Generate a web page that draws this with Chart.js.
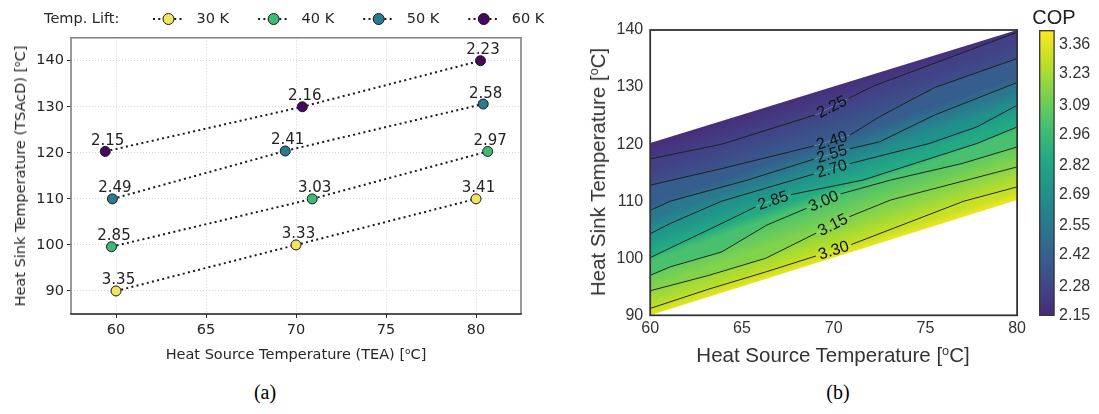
<!DOCTYPE html>
<html>
<head>
<meta charset="utf-8">
<script src="https://cdn.jsdelivr.net/npm/chart.js@4/dist/chart.umd.min.js"></script>
<style>
  body { margin: 0; background: #fff; }
  #fig { position: relative; width: 1099px; height: 414px; overflow: hidden; background: #fff; }
  canvas { position: absolute; top: 0; }
  .lbl { position: absolute; white-space: nowrap; transform: translate(-50%, -50%); line-height: 1; }
  .rot { transform: translate(-50%, -50%) rotate(-90deg); }
  sup { font-size: 0.62em; vertical-align: 0.55em; line-height: 0; }
</style>
</head>
<body>
<div id="fig">
  <canvas id="chartA" width="545" height="380" style="left:0;width:545px;height:380px"></canvas>
  <canvas id="chartB" width="470" height="380" style="left:560px;width:470px;height:380px"></canvas>
  <canvas id="chartCb" width="74" height="380" style="left:1025px;width:74px;height:380px"></canvas>

  <div class="lbl" style="left:296px;top:354px;font:14.5px 'DejaVu Sans';color:#262626">Heat Source Temperature (TEA) [<sup>o</sup>C]</div>
  <div class="lbl rot" style="left:20px;top:176px;font:14.5px 'DejaVu Sans';color:#262626">Heat Sink Temperature (TSAcD) [<sup>o</sup>C]</div>

  <div class="lbl" style="left:833px;top:355px;font:20.5px 'Liberation Sans';color:#333">Heat Source Temperature [<sup>o</sup>C]</div>
  <div class="lbl rot" style="left:598px;top:172px;font:20.5px 'Liberation Sans';color:#333">Heat Sink Temperature [<sup>o</sup>C]</div>
  <div class="lbl" style="left:1054px;top:17px;font:20px 'Liberation Sans';color:#222">COP</div>

  <div class="lbl" style="left:265px;top:392px;font:20px 'Liberation Serif';color:#000">(a)</div>
  <div class="lbl" style="left:838px;top:392px;font:20px 'Liberation Serif';color:#000">(b)</div>
</div>
<script>
// ---------- Painel (a): pontos medidos por elevação de temperatura
const liftLabels = ["30 K", "40 K", "50 K", "60 K"];
const lift30Src = [60.0, 70.0, 80.0];
const lift30Sink = [90.0, 100.0, 110.0];
const lift30Cop = [3.35, 3.33, 3.41];
const lift40Src = [59.75, 70.9, 80.65];
const lift40Sink = [99.6, 110.0, 120.3];
const lift40Cop = [2.85, 3.03, 2.97];
const lift50Src = [59.8, 69.4, 80.4];
const lift50Sink = [110.0, 120.4, 130.6];
const lift50Cop = [2.49, 2.41, 2.58];
const lift60Src = [59.4, 70.35, 80.25];
const lift60Sink = [120.3, 130.0, 140.0];
const lift60Cop = [2.15, 2.16, 2.23];
const aTicksX = [60, 65, 70, 75, 80];
const aTicksY = [90, 100, 110, 120, 130, 140];

// ---------- Painel (b): linhas de contorno do COP
const contourLevels = [3.30, 3.15, 3.00, 2.85, 2.70, 2.55, 2.40, 2.25];
const c330x = [60, 63.2, 66.3, 70.8, 77.1, 80];
const c330y = [91.2, 94.6, 97.6, 102.2, 110.0, 112.5];
const c315x = [60, 63.2, 66.3, 70.8, 73.1, 80];
const c315y = [94.3, 97.0, 100.0, 107.2, 110.2, 116.0];
const c300x = [60, 61.1, 63.9, 66.35, 70.4, 73.1, 77, 80];
const c300y = [97.0, 98.5, 101.1, 105.8, 111.3, 113.7, 116.6, 119.5];
const c285x = [60, 61.1, 63.9, 66.0, 67.6, 71.6, 77.8, 80];
const c285y = [100.1, 101.8, 106.1, 109.4, 111.1, 113.7, 120.1, 123.0];
const c270x = [60, 61.1, 63.9, 69.07, 70.9, 75.2, 77.8, 80];
const c270y = [104.3, 106.1, 110.0, 114.9, 116.6, 120.1, 123.0, 126.8];
const c255x = [60, 61.1, 65.3, 69.07, 70.9, 72.5, 75.5, 80];
const c255y = [108.4, 110.0, 113.7, 117.5, 119.2, 120.4, 125.1, 130.8];
const c240x = [60, 63.9, 69.07, 70.9, 72.5, 75.5, 80];
const c240y = [112.8, 115.7, 119.8, 121.6, 124.8, 129.9, 135.0];
const c225x = [60, 63.9, 69.07, 70.8, 72.2, 80];
const c225y = [117.4, 120.0, 125.2, 128.0, 130.2, 139.6];
const edgeLowX = [60, 80];
const edgeLowY = [90, 110.2];
const edgeUpX = [60, 80];
const edgeUpY = [120.2, 140];
const edgeLowCop = 3.38;
const edgeUpCop = 2.17;
const contourLabelX = [70.0, 69.95, 69.45, 66.7, 69.9, 69.9, 69.9, 69.9];
const bTicksX = [60, 65, 70, 75, 80];
const bTicksY = [90, 100, 110, 120, 130, 140];

// ---------- Barra de cores
const cbMin = 2.15;
const cbMax = 3.424;
const cbTickLabels = ["2.15", "2.28", "2.42", "2.55", "2.69", "2.82", "2.96", "3.09", "3.23", "3.36"];

// estilos
const liftColors = ["#f1e463", "#3eba74", "#2a7b8e", "#46085c"];
const viridisStops = ["#440154", "#482475", "#414487", "#355f8d", "#2a788e", "#21918c",
  "#22a884", "#44bf70", "#7ad151", "#bddf26", "#fde725"];
const cmapStart = 0.12;
const fontA = "DejaVu Sans";
const fontB = "Liberation Sans";

function hexRgb(h) {
  const n = parseInt(h.slice(1), 16);
  return [n >> 16, (n >> 8) & 255, n & 255];
}

function viridis(t) {
  t = Math.max(0, Math.min(1, t));
  const p = t * 10;
  const i = Math.min(9, Math.floor(p));
  const f = p - i;
  const a = hexRgb(viridisStops[i]);
  const b = hexRgb(viridisStops[i + 1]);
  return "rgb(" + a.map((v, k) => Math.round(v + (b[k] - v) * f)).join(",") + ")";
}

function copColor(v) {
  return viridis(cmapStart + (1 - cmapStart) * (v - cbMin) / (cbMax - cbMin));
}

// posição ao longo de uma poligonal (para posicionar rótulos e gradientes)
function yAt(xs, ys, x) {
  for (let i = 1; i < xs.length; i++) {
    if (x <= xs[i]) {
      const f = (x - xs[i - 1]) / (xs[i] - xs[i - 1]);
      return ys[i - 1] + f * (ys[i] - ys[i - 1]);
    }
  }
  return ys[ys.length - 1];
}

// ======================= Painel (a) =======================
const seriesA = [
  { src: lift30Src, sink: lift30Sink, cop: lift30Cop },
  { src: lift40Src, sink: lift40Sink, cop: lift40Cop },
  { src: lift50Src, sink: lift50Sink, cop: lift50Cop },
  { src: lift60Src, sink: lift60Sink, cop: lift60Cop }
];

const frameA = {
  id: "frameA",
  afterDraw(chart) {
    const { left, top, right, bottom } = chart.chartArea;
    const ctx = chart.ctx;
    ctx.save();
    ctx.lineWidth = 1.6;
    ctx.strokeStyle = "#808080";
    ctx.beginPath();
    ctx.moveTo(left, bottom);
    ctx.lineTo(left, top);
    ctx.lineTo(right, top);
    ctx.lineTo(right, bottom);
    ctx.stroke();
    ctx.strokeStyle = "#1a1a1a";
    ctx.beginPath();
    ctx.moveTo(left - 0.8, bottom);
    ctx.lineTo(right + 0.8, bottom);
    ctx.stroke();
    ctx.restore();
  }
};

const legendA = {
  id: "legendA",
  afterDraw(chart) {
    const ctx = chart.ctx;
    ctx.save();
    ctx.font = "14.5px '" + fontA + "'";
    ctx.fillStyle = "#262626";
    ctx.textBaseline = "middle";
    ctx.fillText("Temp. Lift:", 44, 19);
    chart.data.datasets.forEach((ds, i) => {
      const cx = 168.5 + i * 105.1;
      ctx.strokeStyle = "#1a1a1a";
      ctx.lineWidth = 2;
      ctx.setLineDash([2, 3.3]);
      ctx.beginPath();
      ctx.moveTo(cx - 15.5, 19);
      ctx.lineTo(cx + 15.5, 19);
      ctx.stroke();
      ctx.setLineDash([]);
      ctx.lineWidth = 1;
      ctx.fillStyle = liftColors[i];
      ctx.beginPath();
      ctx.arc(cx, 19, 5.5, 0, Math.PI * 2);
      ctx.fill();
      ctx.stroke();
      ctx.fillStyle = "#262626";
      ctx.fillText(ds.label, cx + 28, 19);
    });
    ctx.restore();
  }
};

const copLabels = {
  id: "copLabels",
  afterDatasetsDraw(chart) {
    const ctx = chart.ctx;
    ctx.save();
    ctx.font = "15px '" + fontA + "'";
    ctx.fillStyle = "#222";
    ctx.textAlign = "center";
    ctx.textBaseline = "alphabetic";
    chart.data.datasets.forEach((ds, i) => {
      chart.getDatasetMeta(i).data.forEach((pt, j) => {
        ctx.fillText(ds.cop[j].toFixed(2), pt.x + 2.5, pt.y - 6.5);
      });
    });
    ctx.restore();
  }
};

new Chart(document.getElementById("chartA"), {
  type: "line",
  data: {
    datasets: seriesA.map((s, i) => ({
      label: liftLabels[i],
      data: s.src.map((x, j) => ({ x, y: s.sink[j] })),
      cop: s.cop,
      borderColor: "#1a1a1a",
      borderWidth: 2,
      borderDash: [2, 3.3],
      pointRadius: 5,
      pointBackgroundColor: liftColors[i],
      pointBorderColor: "#1a1a1a",
      pointBorderWidth: 1,
      tension: 0,
      fill: false
    }))
  },
  options: {
    responsive: false,
    animation: false,
    events: [],
    layout: { padding: { top: 37.7, right: 24, left: 0, bottom: 0 } },
    plugins: { legend: { display: false }, tooltip: { enabled: false } },
    scales: {
      x: {
        type: "linear", min: 57.5, max: 82.5,
        afterBuildTicks: s => { s.ticks = aTicksX.map(v => ({ value: v })); },
        afterFit: s => { s.height = 66; },
        grid: { color: "#d4d4d4", lineWidth: 1, drawTicks: true, tickLength: 4, tickColor: "#333", tickWidth: 1 },
        border: { display: false, dash: [1, 2] },
        ticks: { color: "#262626", font: { family: fontA, size: 14.5 }, padding: 4, maxRotation: 0 }
      },
      y: {
        type: "linear", min: 85, max: 145,
        afterBuildTicks: s => { s.ticks = aTicksY.map(v => ({ value: v })); },
        afterFit: s => { s.width = 71; },
        grid: { color: "#d4d4d4", lineWidth: 1, drawTicks: true, tickLength: 4, tickColor: "#333", tickWidth: 1 },
        border: { display: false, dash: [1, 2] },
        ticks: { color: "#262626", font: { family: fontA, size: 14.5 }, padding: 3 }
      }
    }
  },
  plugins: [frameA, legendA, copLabels]
});

// ======================= Painel (b) =======================
const lineSets = [c330x, c315x, c300x, c285x, c270x, c255x, c240x, c225x];
const lineValsY = [c330y, c315y, c300y, c285y, c270y, c255y, c240y, c225y];

const contourSets = [{ v: edgeLowCop, xs: edgeLowX, ys: edgeLowY }]
  .concat(contourLevels.map((lv, k) => ({ v: lv, xs: lineSets[k], ys: lineValsY[k] })))
  .concat([{ v: edgeUpCop, xs: edgeUpX, ys: edgeUpY }]);

function bandFill(chart, i) {
  if (!chart.chartArea) return "transparent";
  const sx = chart.scales.x, sy = chart.scales.y;
  const U = contourSets[i], L = contourSets[i - 1];
  const P = (x, y) => ({ x: sx.getPixelForValue(x), y: sy.getPixelForValue(y) });
  const pU = P(70, yAt(U.xs, U.ys, 70));
  const pL = P(70, yAt(L.xs, L.ys, 70));
  const a = P(60, (yAt(U.xs, U.ys, 60) + yAt(L.xs, L.ys, 60)) / 2);
  const b = P(80, (yAt(U.xs, U.ys, 80) + yAt(L.xs, L.ys, 80)) / 2);
  const dx = b.x - a.x, dy = b.y - a.y;
  const len = Math.hypot(dx, dy);
  let nx = -dy / len, ny = dx / len;
  let s = (pL.x - pU.x) * nx + (pL.y - pU.y) * ny;
  if (s < 0) { nx = -nx; ny = -ny; s = -s; }
  const g = chart.ctx.createLinearGradient(pU.x, pU.y, pU.x + nx * s, pU.y + ny * s);
  for (let k = 0; k <= 4; k++) g.addColorStop(k / 4, copColor(U.v + (L.v - U.v) * k / 4));
  return g;
}

function labelBox(chart, k) {
  const sx = chart.scales.x, sy = chart.scales.y, ctx = chart.ctx;
  const c = contourSets[k + 1];
  const x = contourLabelX[k];
  const cx = sx.getPixelForValue(x);
  const cy = sy.getPixelForValue(yAt(c.xs, c.ys, x));
  let j = 1;
  while (j < c.xs.length - 1 && c.xs[j] < x) j++;
  const ang = Math.atan2(
    sy.getPixelForValue(c.ys[j]) - sy.getPixelForValue(c.ys[j - 1]),
    sx.getPixelForValue(c.xs[j]) - sx.getPixelForValue(c.xs[j - 1]));
  const text = contourLevels[k].toFixed(2);
  ctx.save();
  ctx.font = "16px '" + fontB + "'";
  const w = ctx.measureText(text).width;
  ctx.restore();
  return { cx, cy, ang, text, hw: w / 2 + 3, hh: 6.5 };
}

const contourText = {
  id: "contourText",
  beforeDatasetDraw(chart, args) {
    const ds = chart.data.datasets[args.index];
    if (ds.levelIdx === undefined) return;
    const b = labelBox(chart, ds.levelIdx);
    const ctx = chart.ctx;
    const cs = Math.cos(b.ang), sn = Math.sin(b.ang);
    const pts = [[-b.hw, -b.hh], [b.hw, -b.hh], [b.hw, b.hh], [-b.hw, b.hh]]
      .map(([u, v]) => [b.cx + u * cs - v * sn, b.cy + u * sn + v * cs]);
    ctx.save();
    ctx.beginPath();
    ctx.rect(0, 0, chart.width, chart.height);
    ctx.moveTo(pts[0][0], pts[0][1]);
    for (let q = 1; q < 4; q++) ctx.lineTo(pts[q][0], pts[q][1]);
    ctx.closePath();
    ctx.clip("evenodd");
  },
  afterDatasetDraw(chart, args) {
    const ds = chart.data.datasets[args.index];
    if (ds.levelIdx === undefined) return;
    chart.ctx.restore();
  },
  afterDatasetsDraw(chart) {
    const ctx = chart.ctx;
    contourLevels.forEach((lv, k) => {
      const b = labelBox(chart, k);
      ctx.save();
      ctx.translate(b.cx, b.cy);
      ctx.rotate(b.ang);
      ctx.font = "16px '" + fontB + "'";
      ctx.fillStyle = "#111";
      ctx.textAlign = "center";
      ctx.textBaseline = "middle";
      ctx.fillText(b.text, 0, 0.5);
      ctx.restore();
    });
  }
};

const frameB = {
  id: "frameB",
  afterDraw(chart) {
    const { left, top, right, bottom } = chart.chartArea;
    const ctx = chart.ctx;
    ctx.save();
    ctx.lineWidth = 1.8;
    ctx.strokeStyle = "#333";
    ctx.strokeRect(left, top, right - left, bottom - top);
    ctx.restore();
  }
};

const fillDatasets = contourSets.map((c, i) => ({
  data: c.xs.map((x, j) => ({ x, y: c.ys[j] })),
  borderWidth: 0,
  borderColor: "rgba(0,0,0,0)",
  pointRadius: 0,
  tension: 0,
  fill: i === 0 ? false : "-1",
  backgroundColor: i === 0 ? "rgba(0,0,0,0)" : (ctx => bandFill(ctx.chart, i)),
  order: 2
}));

const strokeDatasets = contourLevels.map((lv, k) => ({
  data: lineSets[k].map((x, j) => ({ x, y: lineValsY[k][j] })),
  levelIdx: k,
  borderWidth: 0.9,
  borderColor: "#111",
  pointRadius: 0,
  tension: 0,
  fill: false,
  order: 1
}));

new Chart(document.getElementById("chartB"), {
  type: "line",
  data: { datasets: fillDatasets.concat(strokeDatasets) },
  options: {
    responsive: false,
    animation: false,
    events: [],
    layout: { padding: { top: 30, right: 12.7, left: 0, bottom: 0 } },
    plugins: {
      legend: { display: false },
      tooltip: { enabled: false },
      filler: { drawTime: "beforeDatasetsDraw" }
    },
    scales: {
      x: {
        type: "linear", min: 60, max: 80,
        afterBuildTicks: s => { s.ticks = bTicksX.map(v => ({ value: v })); },
        afterFit: s => { s.height = 64.7; },
        grid: { display: false, drawTicks: false },
        border: { display: false },
        ticks: { color: "#333", font: { family: fontB, size: 16 }, padding: 4, maxRotation: 0 }
      },
      y: {
        type: "linear", min: 90, max: 140,
        afterBuildTicks: s => { s.ticks = bTicksY.map(v => ({ value: v })); },
        afterFit: s => { s.width = 90.2; },
        grid: { display: false, drawTicks: false },
        border: { display: false },
        ticks: { color: "#333", font: { family: fontB, size: 16 }, padding: 7 }
      }
    }
  },
  plugins: [contourText, frameB]
});

// ======================= Barra de cores =======================
function cbGradient(chart) {
  if (!chart.chartArea) return "transparent";
  const sy = chart.scales.y;
  const y0 = sy.getPixelForValue(cbMin), y1 = sy.getPixelForValue(cbMax);
  const g = chart.ctx.createLinearGradient(0, y0, 0, y1);
  for (let k = 0; k <= 20; k++) g.addColorStop(k / 20, copColor(cbMin + (cbMax - cbMin) * k / 20));
  return g;
}

const frameCb = {
  id: "frameCb",
  afterDraw(chart) {
    const { left, top, right, bottom } = chart.chartArea;
    const ctx = chart.ctx;
    ctx.save();
    ctx.lineWidth = 1.3;
    ctx.strokeStyle = "#333";
    ctx.strokeRect(left, top, right - left, bottom - top);
    ctx.restore();
  }
};

new Chart(document.getElementById("chartCb"), {
  type: "bar",
  data: {
    labels: ["COP"],
    datasets: [{
      data: [[cbMin, cbMax]],
      backgroundColor: ctx => cbGradient(ctx.chart),
      borderWidth: 0,
      barPercentage: 1,
      categoryPercentage: 1
    }]
  },
  options: {
    responsive: false,
    animation: false,
    events: [],
    layout: { padding: { top: 30.7, left: 14.7, right: 0, bottom: 64.7 } },
    plugins: { legend: { display: false }, tooltip: { enabled: false } },
    scales: {
      x: { display: false },
      y: {
        position: "right", min: cbMin, max: cbMax,
        afterBuildTicks: s => { s.ticks = cbTickLabels.map(t => ({ value: parseFloat(t) })); },
        afterFit: s => { s.width = 44.9; },
        grid: { display: false, drawTicks: false },
        border: { display: false },
        ticks: {
          color: "#333", font: { family: fontB, size: 16 }, padding: 5,
          autoSkip: false,
          callback: (v, i) => cbTickLabels[i]
        }
      }
    }
  },
  plugins: [frameCb]
});
</script>
</body>
</html>
